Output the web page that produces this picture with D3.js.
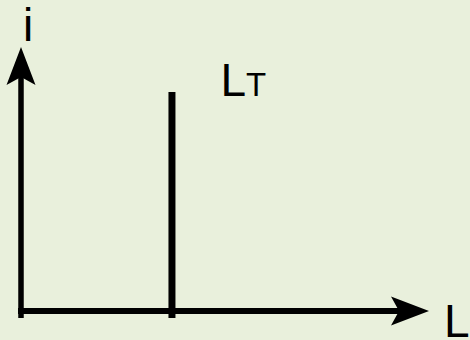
<!DOCTYPE html>
<html>
<head>
<meta charset="utf-8">
<script src="https://cdn.jsdelivr.net/npm/d3@7"></script>
<style>
  html, body { margin: 0; padding: 0; background: #e9f0dc; }
  svg { display: block; }
</style>
</head>
<body>
<div id="chart"></div>
<script>
// schematic: i vs L, with the threshold L_T marked by a vertical bar
var xDomain = [0, 10];
var yDomain = [0, 10];
var axisNames = ["i", "L"];          // y-axis, x-axis
var thresholdX = [3.7];               // position of L_T
var thresholdTop = [8.3];             // how high the bar goes
var thresholdLabel = [["L", "T"]];    // main letter, subscript letter

var width = 470, height = 340;
var svg = d3.select("#chart").append("svg")
    .attr("width", width)
    .attr("height", height);

svg.append("rect")
    .attr("width", width).attr("height", height)
    .attr("fill", "#e9f0dc");

var x = d3.scaleLinear().domain(xDomain).range([21, 429]);
var y = d3.scaleLinear().domain(yDomain).range([311, 47]);

var over = 7;   // lines run a bit below the x axis
var headLen = 38, headHalf = 14.5, notch = 8;

// y axis shaft
svg.append("line")
    .attr("x1", x(xDomain[0])).attr("x2", x(xDomain[0]))
    .attr("y1", y(yDomain[0]) + over).attr("y2", y(yDomain[1]) + headLen - notch)
    .attr("stroke", "#000").attr("stroke-width", 5.5);

// x axis shaft
svg.append("line")
    .attr("x1", x(xDomain[0]) - 3).attr("x2", x(xDomain[1]) - headLen + notch)
    .attr("y1", y(yDomain[0])).attr("y2", y(yDomain[0]))
    .attr("stroke", "#000").attr("stroke-width", 6);

// arrow heads
var tx = x(xDomain[0]), ty = y(yDomain[1]);
svg.append("path")
    .attr("d", "M" + tx + "," + ty +
        "L" + (tx + headHalf) + "," + (ty + headLen) +
        "L" + tx + "," + (ty + headLen - notch) +
        "L" + (tx - headHalf) + "," + (ty + headLen) + "Z")
    .attr("fill", "#000");

var rx = x(xDomain[1]), ry = y(yDomain[0]);
svg.append("path")
    .attr("d", "M" + rx + "," + ry +
        "L" + (rx - headLen) + "," + (ry - headHalf) +
        "L" + (rx - headLen + notch) + "," + ry +
        "L" + (rx - headLen) + "," + (ry + headHalf) + "Z")
    .attr("fill", "#000");

// threshold bar
svg.selectAll(".thr").data(thresholdX).enter().append("line")
    .attr("class", "thr")
    .attr("x1", function (d) { return x(d); })
    .attr("x2", function (d) { return x(d); })
    .attr("y1", y(yDomain[0]) + over)
    .attr("y2", function (d, i) { return y(thresholdTop[i]); })
    .attr("stroke", "#000").attr("stroke-width", 7);

var font = "'Liberation Sans', Arial, sans-serif";

// axis names
svg.append("text")
    .attr("x", x(xDomain[0]) + 2).attr("y", 41)
    .attr("font-family", font).attr("font-size", 46)
    .attr("fill", "#000")
    .text(axisNames[0]);

svg.append("text")
    .attr("x", 444).attr("y", 337)
    .attr("font-family", font).attr("font-size", 46)
    .attr("fill", "#000")
    .text(axisNames[1]);

// L_T label
var lab = svg.append("text")
    .attr("x", x(thresholdX[0]) + 48.5).attr("y", 96)
    .attr("font-family", font).attr("font-size", 46)
    .attr("fill", "#000");
lab.append("tspan").text(thresholdLabel[0][0]);
lab.append("tspan").attr("font-size", 33).text(thresholdLabel[0][1]);
</script>
</body>
</html>
